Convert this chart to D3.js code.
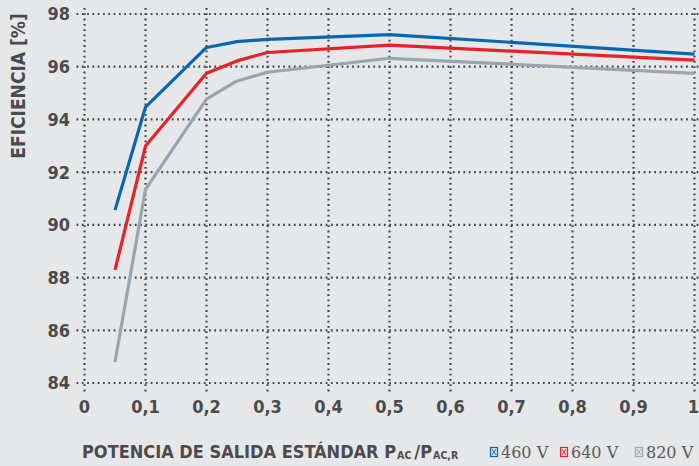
<!DOCTYPE html>
<html>
<head>
<meta charset="utf-8">
<script src="https://cdn.jsdelivr.net/npm/d3@7"></script>
<style>
  body { margin: 0; background: #e6e7e9; }
  svg { display: block; }
  .tick-label { font-family: "DejaVu Sans Condensed", "DejaVu Sans", sans-serif; font-stretch: condensed; font-weight: bold; fill: #4b4b4d; }
  .title { font-family: "DejaVu Sans Condensed", "DejaVu Sans", sans-serif; font-stretch: condensed; font-weight: bold; fill: #4b4b4d; }
  .legend-text { font-family: "DejaVu Serif", "Liberation Serif", serif; fill: #5a5a5c; }
</style>
</head>
<body>
<svg width="699" height="466"></svg>
<script>
var xValues = [0.05, 0.1, 0.2, 0.25, 0.3, 0.5, 1.0];
var eff460 = [90.56, 94.47, 96.73, 96.95, 97.04, 97.22, 96.48];
var eff640 = [88.29, 92.99, 95.75, 96.22, 96.54, 96.82, 96.25];
var eff820 = [84.8, 91.35, 94.77, 95.46, 95.79, 96.32, 95.75];
var xTicks = [0, 0.1, 0.2, 0.3, 0.4, 0.5, 0.6, 0.7, 0.8, 0.9, 1];
var yTicks = [84, 86, 88, 90, 92, 94, 96, 98];
var seriesNames = ["460 V", "640 V", "820 V"];
var seriesColors = ["#0a66b0", "#e8202a", "#9ba5ae"];

var svg = d3.select("svg");

var x = d3.scaleLinear().domain([0, 1]).range([84.5, 694.5]);
var y = d3.scaleLinear().domain([84, 98]).range([383, 14]);

var fmt = function (d) { return d === 0 || d === 1 ? String(d) : String(d).replace(".", ","); };

// dotted grid
var grid = svg.append("g")
    .attr("stroke", "#48484a")
    .attr("stroke-width", 2.2)
    .attr("stroke-dasharray", "1.8 3.5");

grid.selectAll(".hgrid")
    .data(yTicks)
    .enter().append("line")
    .attr("x1", x(0) - 8)
    .attr("x2", x(1) + 4)
    .attr("y1", function (d) { return y(d); })
    .attr("y2", function (d) { return y(d); });

grid.selectAll(".vgrid")
    .data(xTicks)
    .enter().append("line")
    .attr("x1", function (d) { return x(d); })
    .attr("x2", function (d) { return x(d); })
    .attr("y1", y(98) - 6)
    .attr("y2", y(84) + 9);

// tick labels
svg.append("g").selectAll("text")
    .data(yTicks)
    .enter().append("text")
    .attr("class", "tick-label")
    .attr("x", 70)
    .attr("y", function (d) { return y(d); })
    .attr("dy", "0.36em")
    .attr("text-anchor", "end")
    .attr("font-size", 18)
    .text(function (d) { return d; });

svg.append("g").selectAll("text")
    .data(xTicks)
    .enter().append("text")
    .attr("class", "tick-label")
    .attr("x", function (d) { return d === 1 ? x(d) - 1 : x(d); })
    .attr("y", 413)
    .attr("text-anchor", "middle")
    .attr("font-size", 18)
    .text(fmt);

// lines
var series = [eff460, eff640, eff820];
var line = d3.line()
    .x(function (d) { return x(d[0]); })
    .y(function (d) { return y(d[1]); });

series.slice().reverse().forEach(function (vals, j) {
    var i = series.length - 1 - j;
    svg.append("path")
        .datum(xValues.map(function (v, k) { return [v, vals[k]]; }))
        .attr("fill", "none")
        .attr("stroke", seriesColors[i])
        .attr("stroke-width", 3.2)
        .attr("stroke-linejoin", "round")
        .attr("d", line);
});

// axis titles
svg.append("text")
    .attr("class", "title")
    .attr("transform", "translate(25,86) rotate(-90)")
    .attr("text-anchor", "middle")
    .attr("font-size", 19)
    .text("EFICIENCIA [%]");

// x title in pieces, each placed after the one before it
var titleParts = [
    { t: "POTENCIA DE SALIDA ESTÁNDAR P", s: 18, gap: 1 },
    { t: "AC", s: 10.5, gap: 3 },
    { t: "/P", s: 18, gap: 1 },
    { t: "AC,R", s: 10.5, gap: 0 }
];
var tx = 82;
titleParts.forEach(function (d) {
    var node = svg.append("text")
        .attr("class", "title")
        .attr("x", tx)
        .attr("y", d.s < 15 ? 459 : 458)
        .attr("font-size", d.s)
        .text(d.t);
    tx += node.node().getComputedTextLength() + d.gap;
});

// legend
var legendX = [490, 560, 635];
var lg = svg.append("g").selectAll("g")
    .data(seriesNames)
    .enter().append("g")
    .attr("transform", function (d, i) { return "translate(" + legendX[i] + ",447)"; });

lg.append("rect")
    .attr("x", 0.5).attr("y", 0.5)
    .attr("width", 7).attr("height", 9)
    .attr("fill", "none")
    .attr("stroke", function (d, i) { return seriesColors[i]; })
    .attr("stroke-width", 1.2);
lg.append("path")
    .attr("d", "M1.8,2L6.2,8M6.2,2L1.8,8")
    .attr("fill", "none")
    .attr("stroke", function (d, i) { return seriesColors[i]; })
    .attr("stroke-width", 1);
lg.append("text")
    .attr("class", "legend-text")
    .attr("x", 11)
    .attr("y", 10.5)
    .attr("font-size", 16)
    .text(function (d) { return d; });
</script>
</body>
</html>
